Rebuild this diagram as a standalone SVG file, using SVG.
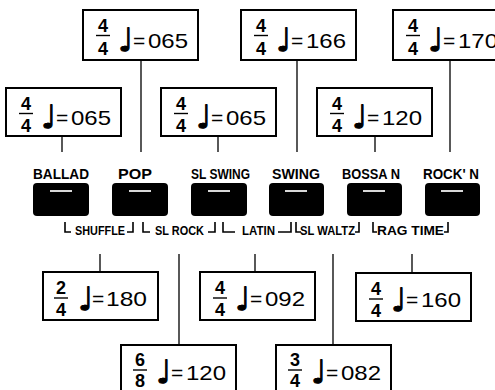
<svg xmlns="http://www.w3.org/2000/svg" width="495" height="390" viewBox="0 0 495 390">
<style>
.box{fill:#fff;stroke:#000;stroke-width:2}
.fr{font-family:"Liberation Sans",Arial,sans-serif;font-weight:bold;font-size:18px;text-anchor:middle;fill:#000}
.bar{stroke:#000;stroke-width:1.4}
.note{font-family:"DejaVu Sans",sans-serif;font-size:32px;fill:#000;stroke:#000;stroke-width:1.1}
.eq{font-family:"Liberation Sans",Arial,sans-serif;font-size:21px;fill:#000}
.lbl{font-family:"Liberation Sans",Arial,sans-serif;font-weight:bold;font-size:14px;fill:#000}
.sub{font-family:"Liberation Sans",Arial,sans-serif;font-weight:bold;font-size:13.5px;fill:#000}
.btn{fill:#000}
.mark{fill:#d8d8d8}
.wire{stroke:#000;stroke-width:1.3;fill:none}
.brk{stroke:#000;stroke-width:1.6;fill:none}
</style>
<defs>
<g id="frame50"><rect class="box" x="0" y="0" width="115" height="50"/></g>
<g id="frame48"><rect class="box" x="0" y="0" width="115" height="48"/></g>
</defs>

<g id="connectors">
<path class="wire" d="M141,60V152M297,60V152M450,60V152M62,136V152M218,136V152M375,136V152"/>
<path class="wire" d="M100,254V272M179,254V345M255,254V272M333,254V345M412,254V273"/>
</g>

<g id="node-a" transform="translate(83,10)">
<use href="#frame50"/>
<text class="fr" x="20" y="22">4</text><line class="bar" x1="13" y1="25.5" x2="27" y2="25.5"/><text class="fr" x="20" y="45">4</text>
<text class="note" x="35" y="41">♩</text><text class="eq" x="50" y="38">=</text><text class="eq" x="65" y="38" textLength="40" lengthAdjust="spacingAndGlyphs">065</text>
</g>
<g id="node-b" transform="translate(241,10)">
<use href="#frame50"/>
<text class="fr" x="20" y="22">4</text><line class="bar" x1="13" y1="25.5" x2="27" y2="25.5"/><text class="fr" x="20" y="45">4</text>
<text class="note" x="35" y="41">♩</text><text class="eq" x="50" y="38">=</text><text class="eq" x="65" y="38" textLength="40" lengthAdjust="spacingAndGlyphs">166</text>
</g>
<g id="node-c" transform="translate(393,10)">
<use href="#frame50"/>
<text class="fr" x="20" y="22">4</text><line class="bar" x1="13" y1="25.5" x2="27" y2="25.5"/><text class="fr" x="20" y="45">4</text>
<text class="note" x="35" y="41">♩</text><text class="eq" x="50" y="38">=</text><text class="eq" x="65" y="38" textLength="40" lengthAdjust="spacingAndGlyphs">170</text>
</g>
<g id="node-d" transform="translate(6,88)">
<use href="#frame48"/>
<text class="fr" x="20" y="22">4</text><line class="bar" x1="13" y1="25.5" x2="27" y2="25.5"/><text class="fr" x="20" y="44">4</text>
<text class="note" x="35" y="40">♩</text><text class="eq" x="50" y="37">=</text><text class="eq" x="65" y="37" textLength="40" lengthAdjust="spacingAndGlyphs">065</text>
</g>
<g id="node-e" transform="translate(161,88)">
<use href="#frame48"/>
<text class="fr" x="20" y="22">4</text><line class="bar" x1="13" y1="25.5" x2="27" y2="25.5"/><text class="fr" x="20" y="44">4</text>
<text class="note" x="35" y="40">♩</text><text class="eq" x="50" y="37">=</text><text class="eq" x="65" y="37" textLength="40" lengthAdjust="spacingAndGlyphs">065</text>
</g>
<g id="node-f" transform="translate(317,88)">
<use href="#frame48"/>
<text class="fr" x="20" y="22">4</text><line class="bar" x1="13" y1="25.5" x2="27" y2="25.5"/><text class="fr" x="20" y="44">4</text>
<text class="note" x="35" y="40">♩</text><text class="eq" x="50" y="37">=</text><text class="eq" x="65" y="37" textLength="40" lengthAdjust="spacingAndGlyphs">120</text>
</g>

<g id="buttons">
<g id="btn-ballad"><rect class="btn" x="33" y="183" width="56" height="33" rx="4"/><rect class="mark" x="50" y="190" width="22" height="2"/><text class="lbl" x="33" y="179" textLength="56" lengthAdjust="spacingAndGlyphs">BALLAD</text></g>
<g id="btn-pop"><rect class="btn" x="112" y="183" width="56" height="33" rx="4"/><rect class="mark" x="129" y="190" width="22" height="2"/><text class="lbl" x="118" y="179" textLength="34" lengthAdjust="spacingAndGlyphs">POP</text></g>
<g id="btn-slswing"><rect class="btn" x="191" y="183" width="56" height="33" rx="4"/><rect class="mark" x="208" y="190" width="22" height="2"/><text class="lbl" x="191" y="179" textLength="59" lengthAdjust="spacingAndGlyphs">SL SWING</text></g>
<g id="btn-swing"><rect class="btn" x="269" y="183" width="55" height="33" rx="4"/><rect class="mark" x="285" y="190" width="22" height="2"/><text class="lbl" x="272" y="179" textLength="48" lengthAdjust="spacingAndGlyphs">SWING</text></g>
<g id="btn-bossa"><rect class="btn" x="347" y="183" width="55" height="33" rx="4"/><rect class="mark" x="363" y="190" width="22" height="2"/><text class="lbl" x="342" y="179" textLength="58" lengthAdjust="spacingAndGlyphs">BOSSA N</text></g>
<g id="btn-rock"><rect class="btn" x="425" y="183" width="55" height="33" rx="4"/><rect class="mark" x="441" y="190" width="22" height="2"/><text class="lbl" x="423" y="179" textLength="56" lengthAdjust="spacingAndGlyphs">ROCK' N</text></g>
</g>

<g id="alt-labels">
<path class="brk" d="M65,222V232H71M127,232H133V222M143,222V232H150M208,232H215V222M223,222V232H235M278,232H291V222M296,222V232H301M355,232H359V222M373,222V232H377M444,232H448V222"/>
<text class="sub" x="75" y="235" textLength="50" lengthAdjust="spacingAndGlyphs">SHUFFLE</text>
<text class="sub" x="155" y="235" textLength="49" lengthAdjust="spacingAndGlyphs">SL ROCK</text>
<text class="sub" x="242" y="235" textLength="33" lengthAdjust="spacingAndGlyphs">LATIN</text>
<text class="sub" x="300" y="235" textLength="55" lengthAdjust="spacingAndGlyphs">SL WALTZ</text>
<text class="sub" x="377" y="235" textLength="67" lengthAdjust="spacingAndGlyphs">RAG TIME</text>
</g>

<g id="node-g" transform="translate(43,272)">
<use href="#frame48"/>
<text class="fr" x="18" y="22">2</text><line class="bar" x1="11" y1="26" x2="25" y2="26"/><text class="fr" x="18" y="44">4</text>
<text class="note" x="35" y="38">♩</text><text class="eq" x="49" y="34">=</text><text class="eq" x="63" y="34" textLength="41" lengthAdjust="spacingAndGlyphs">180</text>
</g>
<g id="node-h" transform="translate(200,272)">
<use href="#frame48"/>
<text class="fr" x="20" y="22">4</text><line class="bar" x1="13" y1="26" x2="27" y2="26"/><text class="fr" x="20" y="44">4</text>
<text class="note" x="35" y="38">♩</text><text class="eq" x="50" y="34">=</text><text class="eq" x="65" y="34" textLength="40" lengthAdjust="spacingAndGlyphs">092</text>
</g>
<g id="node-i" transform="translate(356,273)">
<use href="#frame48"/>
<text class="fr" x="20" y="22">4</text><line class="bar" x1="13" y1="26" x2="27" y2="26"/><text class="fr" x="20" y="44">4</text>
<text class="note" x="35" y="38">♩</text><text class="eq" x="50" y="34">=</text><text class="eq" x="65" y="34" textLength="40" lengthAdjust="spacingAndGlyphs">160</text>
</g>
<g id="node-j" transform="translate(121,345)">
<rect class="box" x="0" y="0" width="115" height="50"/>
<text class="fr" x="19" y="21">6</text><line class="bar" x1="12" y1="25" x2="26" y2="25"/><text class="fr" x="19" y="42">8</text>
<text class="note" x="35" y="38">♩</text><text class="eq" x="50" y="35">=</text><text class="eq" x="65" y="35" textLength="40" lengthAdjust="spacingAndGlyphs">120</text>
</g>
<g id="node-k" transform="translate(276,345)">
<rect class="box" x="0" y="0" width="115" height="50"/>
<text class="fr" x="19" y="21">3</text><line class="bar" x1="12" y1="25" x2="26" y2="25"/><text class="fr" x="19" y="42">4</text>
<text class="note" x="35" y="38">♩</text><text class="eq" x="50" y="35">=</text><text class="eq" x="65" y="35" textLength="40" lengthAdjust="spacingAndGlyphs">082</text>
</g>
</svg>
